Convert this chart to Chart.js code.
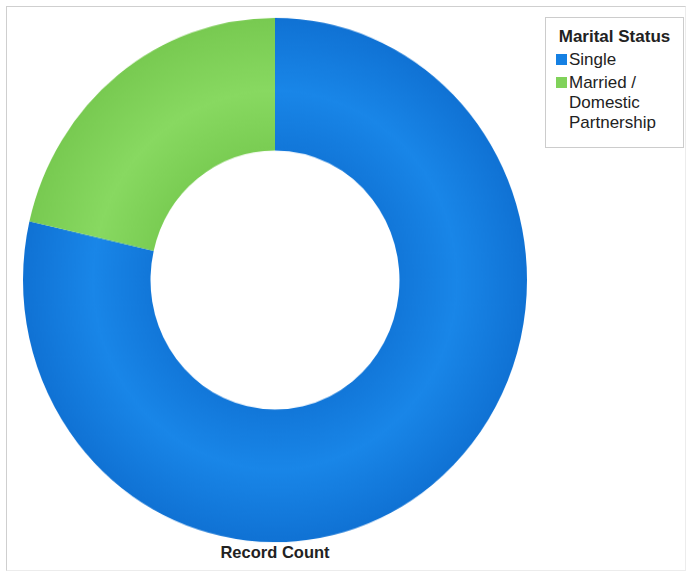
<!DOCTYPE html>
<html>
<head>
<meta charset="utf-8">
<script src="https://cdn.jsdelivr.net/npm/chart.js@4/dist/chart.umd.min.js"></script>
<style>
  body { margin: 0; background: #fff; font-family: "Liberation Sans", Arial, sans-serif; }
  #wrap { position: relative; width: 689px; height: 579px; overflow: hidden; }
  #frame {
    position: absolute; left: 6px; top: 6px; width: 678px; height: 563px;
    border-left: 1px solid #cfcfcf; border-top: 1px solid #cfcfcf;
    border-right: 1px solid #ececec; border-bottom: 1px solid #ececec;
  }
  #donut {
    position: absolute; left: 23px; top: 28px;
    transform: scaleY(1.04); transform-origin: 50% 50%;
  }
  #legend {
    position: absolute; left: 545px; top: 17px; width: 137px; height: 129px;
    border: 1px solid #cccccc; background: #fff; color: #222;
  }
  #legend .title { font-weight: bold; font-size: 17px; text-align: center; margin-top: 9px; }
  #legend .item { position: relative; padding-left: 23px; font-size: 17px; line-height: 20px; margin-top: 3px; }
  #legend .item:first-of-type { margin-top: 8px; }
  #legend .sw { position: absolute; left: 10px; top: 4px; width: 11px; height: 11px; }
  #xTitle {
    position: absolute; left: 175px; width: 200px; top: 543px; text-align: center;
    font-weight: bold; font-size: 16.5px; color: #222;
  }
</style>
</head>
<body>
<div id="wrap">
  <div id="frame"></div>
  <canvas id="donut" width="504" height="504"></canvas>
  <div id="legend"></div>
  <div id="xTitle"></div>
</div>
<script>
// data
const categories = ["Single", "Married / Domestic Partnership"];
const recordCounts = [393, 107];
const legendTitle = "Marital Status";
const axisTitle = "Record Count";

const baseColors = ["#1580e3", "#80d25a"];
const gradStops = [
  ["#1277d9", "#1986e8", "#1072d4"],
  ["#7acd53", "#88d961", "#78ca51"],
];
const cutoutPct = 49.4;

function sliceColor(ctx) {
  const chart = ctx.chart;
  const area = chart.chartArea;
  if (!area) return baseColors[ctx.dataIndex];
  const cx = (area.left + area.right) / 2;
  const cy = (area.top + area.bottom) / 2;
  const outer = Math.min(area.right - area.left, area.bottom - area.top) / 2;
  const inner = outer * cutoutPct / 100;
  const g = chart.ctx.createRadialGradient(cx, cy, inner, cx, cy, outer);
  const s = gradStops[ctx.dataIndex];
  g.addColorStop(0, s[0]);
  g.addColorStop(0.45, s[1]);
  g.addColorStop(1, s[2]);
  return g;
}

new Chart(document.getElementById("donut"), {
  type: "doughnut",
  data: {
    labels: categories,
    datasets: [{
      data: recordCounts,
      backgroundColor: sliceColor,
      borderWidth: 0,
    }],
  },
  options: {
    responsive: false,
    animation: false,
    cutout: cutoutPct + "%",
    layout: { padding: 0 },
    plugins: { legend: { display: false }, tooltip: { enabled: false } },
  },
});

// legend (html so the long label can wrap)
const legend = document.getElementById("legend");
const t = document.createElement("div");
t.className = "title";
t.textContent = legendTitle;
legend.appendChild(t);
categories.forEach((c, i) => {
  const item = document.createElement("div");
  item.className = "item";
  const sw = document.createElement("span");
  sw.className = "sw";
  sw.style.background = baseColors[i];
  item.appendChild(sw);
  item.appendChild(document.createTextNode(c));
  legend.appendChild(item);
});

document.getElementById("xTitle").textContent = axisTitle;
</script>
</body>
</html>
